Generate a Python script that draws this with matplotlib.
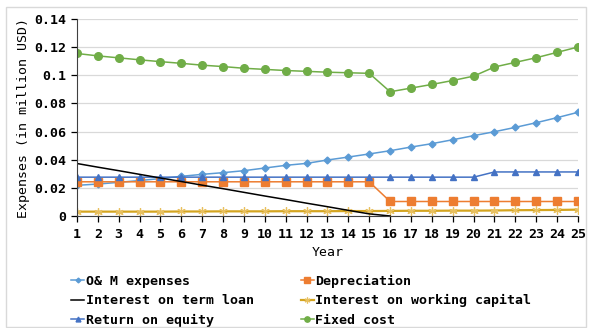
import matplotlib.pyplot as plt
import numpy as np
from matplotlib.patches import Rectangle

plt.rcParams['font.family'] = ['DejaVu Sans Mono']
plt.rcParams['font.weight'] = 'bold'

years = list(range(1, 26))

om_expenses = [0.0218, 0.0227, 0.0239, 0.0252, 0.0266, 0.0282, 0.0296, 0.0308, 0.0322, 0.0341,
               0.0360, 0.0374, 0.0398, 0.0419, 0.0441, 0.0464, 0.0490, 0.0514, 0.0542, 0.0571,
               0.0599, 0.0630, 0.0663, 0.0699, 0.0737]
depreciation = [0.0243] * 15 + [0.0103] * 10
term_loan_interest = [0.0373, 0.0347, 0.0322, 0.0296, 0.0270, 0.0245, 0.0219, 0.0194, 0.0168, 0.0142,
                      0.0117, 0.0091, 0.0066, 0.0040, 0.0015, 0.0]
working_cap_interest = [0.0031, 0.0031, 0.0031, 0.0031, 0.0031, 0.0032, 0.0032, 0.0033, 0.0033, 0.0033,
                        0.0034, 0.0034, 0.0034, 0.0035, 0.0035, 0.0036, 0.0037, 0.0037, 0.0038, 0.0038,
                        0.0039, 0.0041, 0.0042, 0.0043, 0.0045]
return_on_equity = [0.0276] * 20 + [0.0313] * 5
fixed_cost = [0.1155, 0.1138, 0.1124, 0.1110, 0.1097, 0.1085, 0.1072, 0.1062, 0.1050, 0.1042,
              0.1034, 0.1028, 0.1022, 0.1018, 0.1014, 0.0883, 0.0909, 0.0935, 0.0963, 0.0994,
              0.1059, 0.1092, 0.1125, 0.1163, 0.1201]

fig = plt.figure(figsize=(5.89, 3.28), dpi=100)
ax = fig.add_axes([0.1307, 0.3415, 0.8506, 0.6005])

# light frame around the whole chart
fig.patches.append(Rectangle((6 / 589, 1 / 328), 580 / 589, 320 / 328, transform=fig.transFigure,
                             fill=False, edgecolor='#d9d9d9', linewidth=1.0))

h_om, = ax.plot(years, om_expenses, color='#5b9bd5', marker='D', markersize=3.5, linewidth=1.1,
                label='O& M expenses')
h_dep, = ax.plot(years, depreciation, color='#ed7d31', marker='s', markersize=5.5, linewidth=1.1,
                 label='Depreciation')
h_wc, = ax.plot(years, working_cap_interest, color='#d4a520', marker=(6, 2, 0), markersize=6,
                markeredgecolor='#e8c060', markeredgewidth=0.9, linewidth=1.6,
                label='Interest on working capital')
h_roe, = ax.plot(years, return_on_equity, color='#4472c4', marker='^', markersize=5, linewidth=1.1,
                 label='Return on equity')
h_fc, = ax.plot(years, fixed_cost, color='#70ad47', marker='o', markersize=5.5, linewidth=1.1,
                label='Fixed cost')
h_tl, = ax.plot(years[:len(term_loan_interest)], term_loan_interest, color='black', linewidth=1.1,
                label='Interest on term loan')

ax.set_xlim(1, 25)
ax.set_ylim(0, 0.14)
ax.set_xticks(years)
ax.set_yticks(np.arange(0, 0.141, 0.02))
ax.set_yticklabels(['0', '0.02', '0.04', '0.06', '0.08', '0.1', '0.12', '0.14'])
ax.tick_params(axis='both', labelsize=9.5, colors='black', length=4, width=0.9)
ax.tick_params(axis='x', pad=5)
ax.yaxis.grid(True, color='#d9d9d9', linewidth=0.9)
ax.set_axisbelow(True)

for side in ['top', 'right']:
    ax.spines[side].set_visible(False)
ax.spines['left'].set_color('#404040')
ax.spines['bottom'].set_color('#404040')

ax.set_xlabel('Year', fontsize=9.5, labelpad=3)
ax.set_ylabel('Expenses (in million USD)', fontsize=9.5, labelpad=3)

# column-first fill, so order handles to read row by row
handles = [h_om, h_tl, h_roe, h_dep, h_wc, h_fc]
ax.legend(handles=handles, labels=[h.get_label() for h in handles],
          loc='upper left', bbox_to_anchor=(-0.022, -0.27), ncol=2, frameon=False, fontsize=9.5,
          handlelength=1.0, handletextpad=0.1, columnspacing=3.55, labelspacing=0.5,
          markerscale=0.7, borderaxespad=0)

fig.savefig('out.png', dpi=100)
